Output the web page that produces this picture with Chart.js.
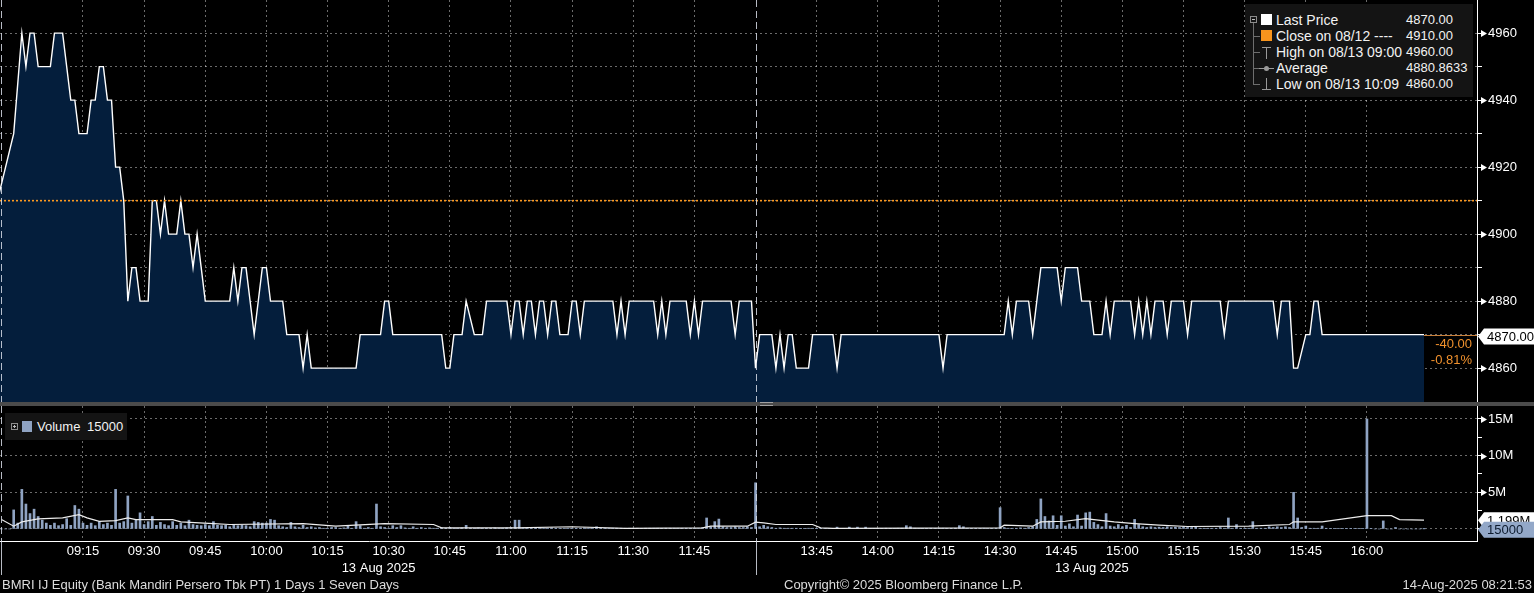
<!DOCTYPE html>
<html>
<head>
<meta charset="utf-8">
<title>BMRI IJ Equity intraday</title>
<script src="https://cdn.jsdelivr.net/npm/chart.js"></script>
<style>
  html, body { margin: 0; padding: 0; background: #000; }
  body { position: relative; width: 1534px; height: 593px; overflow: hidden; font-family: "Liberation Sans", Arial, sans-serif; color: #f2f2f2; }
  canvas { position: absolute; left: 0; }
  #price-chart { top: 0; }
  #volume-chart { top: 406px; }
  #sep { position: absolute; left: 0; top: 402px; width: 1534px; height: 4px; background: #4b4b4b; }
  #grip { position: absolute; left: 760px; top: 402px; width: 13px; height: 2px; border-top: 1px solid #a0a0a0; border-bottom: 1px solid #a0a0a0; }
  .box { position: absolute; background: #141414; }
  #legend { left: 1245px; top: 4px; width: 228px; height: 93px; }
  #legend .t { position: absolute; left: 31px; height: 16px; line-height: 16px; font-size: 14px; white-space: pre; }
  #legend .v { position: absolute; left: 161px; height: 16px; line-height: 16px; font-size: 13px; }
  .tree { position: absolute; left: 8px; top: 18px; height: 62px; border-left: 1px solid #6e6e6e; }
  .stub { position: absolute; left: 8px; width: 7px; border-top: 1px solid #6e6e6e; }
  .pm { position: absolute; width: 5px; height: 5px; border: 1px solid #8c8c8c; }
  .pm::after { content: ""; position: absolute; left: 1px; top: 2px; width: 3px; border-top: 1px solid #bbb; }
  .pm.plus::before { content: ""; position: absolute; left: 2px; top: 1px; height: 3px; border-left: 1px solid #bbb; }
  .sw { position: absolute; width: 11px; height: 11px; }
  .hi, .lo { position: absolute; left: 17px; width: 9px; height: 11px; }
  .hi { top: 43px; border-top: 1px solid #9a9a9a; }
  .lo { top: 74px; border-bottom: 1px solid #9a9a9a; }
  .hi::after, .lo::after { content: ""; position: absolute; left: 4px; top: 0; height: 11px; border-left: 1px solid #9a9a9a; }
  .avgline { position: absolute; left: 14px; top: 64px; width: 15px; border-top: 1px solid #9a9a9a; }
  .avgdot { position: absolute; left: 19px; top: 62px; width: 5px; height: 5px; border-radius: 50%; background: #9a9a9a; }
  #vlegend { left: 5px; top: 413px; width: 122px; height: 27px; }
  #vlegend .t { position: absolute; top: 0; line-height: 27px; font-size: 13px; }
  .chg { position: absolute; left: 1400px; width: 72px; text-align: right; font-size: 13px; line-height: 16px; color: #f0912d; }
  .foot { position: absolute; top: 577px; line-height: 16px; font-size: 13px; color: #dcdcdc; white-space: nowrap; }
</style>
</head>
<body>
<canvas id="price-chart" width="1534" height="402"></canvas>
<canvas id="volume-chart" width="1534" height="187"></canvas>
<div id="sep"></div>
<div id="grip"></div>

<div id="legend" class="box">
  <div class="tree"></div>
  <div class="pm" style="left:5px;top:12px"></div>
  <div class="stub" style="top:32px"></div>
  <div class="stub" style="top:48px"></div>
  <div class="stub" style="top:64px"></div>
  <div class="stub" style="top:80px"></div>
  <div class="sw" style="left:16px;top:10px;background:#ffffff"></div>
  <div class="sw" style="left:16px;top:26px;background:#f7941d"></div>
  <div class="hi"></div>
  <div class="avgline"></div>
  <div class="avgdot"></div>
  <div class="lo"></div>
  <div class="t" style="top:8px">Last Price</div>
  <div class="t" style="top:24px">Close on 08/12 ----</div>
  <div class="t" style="top:40px">High on 08/13 09:00</div>
  <div class="t" style="top:56px">Average</div>
  <div class="t" style="top:72px">Low on 08/13 10:09</div>
  <div class="v" style="top:8px">4870.00</div>
  <div class="v" style="top:24px">4910.00</div>
  <div class="v" style="top:40px">4960.00</div>
  <div class="v" style="top:56px">4880.8633</div>
  <div class="v" style="top:72px">4860.00</div>
</div>

<div id="vlegend" class="box">
  <div class="pm plus" style="left:6px;top:10px"></div>
  <div class="sw" style="left:17px;top:8px;width:10px;background:#8fa3c2"></div>
  <div class="t" style="left:32px">Volume</div>
  <div class="t" id="vol-last" style="left:82px">15000</div>
</div>

<div class="chg" style="top:336px">-40.00</div>
<div class="chg" style="top:352px">-0.81%</div>

<div class="foot" style="left:2px">BMRI IJ Equity (Bank Mandiri Persero Tbk PT) 1 Days 1 Seven Days</div>
<div class="foot" style="left:784px">Copyright© 2025 Bloomberg Finance L.P.</div>
<div class="foot" style="right:2px">14-Aug-2025 08:21:53</div>

<script>
// trading minutes counted from 09:00; the lunch break (12:00-13:30) is cut out, so 13:30 = 180
const FIRST_MINUTE = -6;

// last price per minute bar (IDR), null = no trade in that minute
const price = [
  4910, null, null, null, 4930, null,
  4960, 4950, 4960, 4960, 4950, 4950, 4950, 4950, 4960, 4960, 4960, 4950, 4940, 4940, 4930, // 09:00
  4930, 4930, 4940, 4940, 4950, 4950, 4940, 4940, 4920, 4920, 4910, 4880, 4890, 4890, 4880, // 09:15
  4880, 4880, 4910, 4910, 4900, 4910, 4900, 4900, 4900, 4910, 4900, 4900, 4890, 4900, 4890, // 09:30
  4880, 4880, 4880, 4880, 4880, 4880, 4880, 4890, 4880, 4890, 4890, 4880, 4870, 4880, 4890, // 09:45
  4890, 4880, 4880, 4880, 4880, 4870, 4870, 4870, 4870, 4860, 4870, 4860, 4860, 4860, 4860, // 10:00
  4860, 4860, 4860, 4860, 4860, 4860, 4860, 4860, 4870, 4870, 4870, 4870, 4870, 4870, 4880, // 10:15
  4880, 4870, 4870, 4870, 4870, 4870, 4870, 4870, 4870, 4870, 4870, 4870, 4870, 4870, 4860, // 10:30
  4860, 4870, 4870, 4870, 4880, null, 4870, 4870, 4870, 4880, 4880, 4880, 4880, 4880, 4880, // 10:45
  4870, 4880, 4880, 4870, 4880, 4880, 4870, 4880, 4880, 4870, 4880, 4880, 4870, 4870, 4870, // 11:00
  4880, 4880, 4870, 4880, 4880, 4880, 4880, 4880, 4880, 4880, 4880, 4870, 4880, 4870, 4880, // 11:15
  4880, 4880, 4880, 4880, 4880, 4880, 4870, 4880, 4870, 4880, 4880, 4880, 4880, 4880, 4870, // 11:30
  4880, 4870, 4880, 4880, 4880, 4880, 4880, 4880, 4880, 4880, 4870, 4880, 4880, 4880, 4880, // 11:45
  4860, 4870, 4870, 4870, 4870, 4860, 4870, 4860, 4870, 4870, 4860, 4860, 4860, 4860, 4870, // 13:30
  4870, 4870, 4870, 4870, 4870, 4860, 4870, 4870, 4870, 4870, 4870, 4870, 4870, 4870, 4870, // 13:45
  4870, 4870, 4870, 4870, 4870, 4870, 4870, 4870, 4870, 4870, 4870, 4870, 4870, 4870, 4870, // 14:00
  4870, 4860, 4870, 4870, 4870, 4870, 4870, 4870, 4870, 4870, 4870, 4870, 4870, 4870, 4870, // 14:15
  4870, 4870, 4880, 4870, 4880, 4880, 4880, 4880, 4870, 4880, 4890, 4890, 4890, 4890, 4890, // 14:30
  4880, 4890, 4890, 4890, 4890, 4880, 4880, 4880, 4870, 4870, 4870, 4880, 4870, 4880, 4880, // 14:45
  4880, 4880, 4880, 4870, 4880, 4870, 4880, 4870, 4880, 4880, 4880, 4870, 4880, 4880, 4880, // 15:00
  4880, 4870, 4880, 4880, 4880, 4880, 4880, 4880, 4880, 4880, 4870, 4880, 4880, 4880, 4880, // 15:15
  4880, 4880, 4880, 4880, 4880, 4880, 4880, 4880, 4870, 4880, 4880, 4880, 4860, 4860, null, // 15:30
  4870, 4870, 4880, 4880, 4870, 4870, 4870, 4870, 4870, 4870, 4870, 4870, 4870, 4870, 4870, // 15:45
  4870, 4870, 4870, 4870, 4870, 4870, 4870, 4870, 4870, 4870, 4870, 4870, 4870, 4870, 4870  // 16:00
];

// volume per minute bar, millions of shares
const volume = [
  0, 0, 0, 0, 2.6, 0.8,
  5.4, 3.4, 2.1, 2.7, 1.7, 1.2, 0.8, 0.5, 0.8, 0.45, 0.6, 1.4, 0.5, 3.2, 2.7,
  0.8, 0.5, 0.8, 0.45, 1.0, 0.6, 0.8, 0.5, 5.4, 0.8, 1.0, 4.5, 0.8, 1.2, 2.2,
  0.6, 1.0, 1.7, 0.5, 0.9, 0.6, 0.45, 1.0, 0.5, 0.8, 0.45, 1.2, 0.6, 0.5, 0.45,
  0.6, 0.45, 1.0, 0.5, 0.45, 0.5, 0.3, 0.6, 0.45, 0.5, 0.45, 0.3, 1.0, 0.9, 0.8,
  0.8, 1.3, 1.2, 0.45, 0.3, 0.2, 0.9, 0.3, 0.2, 0.5, 0.2, 0.3, 0.15, 0.2, 0.1,
  0.1, 0.2, 0.2, 0.1, 0.15, 0.5, 0.1, 1.0, 0.45, 0.1, 0.2, 0.1, 3.4, 0.3, 0.2,
  0.1, 0.45, 0.2, 0.45, 0.15, 0.1, 0.3, 0.1, 0.2, 0.1, 0.15, 0.1, 0.1, 0.15, 0.1,
  0.2, 0.1, 0.1, 0.15, 0.5, 0.1, 0.1, 0.15, 0.1, 0.1, 0.1, 0.15, 0.1, 0.1, 0.15,
  0.2, 1.2, 1.2, 0.15, 0.1, 0.1, 0.15, 0.1, 0.1, 0.1, 0.15, 0.1, 0.1, 0.1, 0.1,
  0.1, 0.1, 0.1, 0.15, 0.1, 0.1, 0.3, 0.1, 0.1, 0.1, 0.1, 0.1, 0.1, 0.1, 0.1,
  0.1, 0.1, 0.05, 0.1, 0.1, 0.1, 0.1, 0.05, 0.1, 0.1, 0.1, 0.1, 0.1, 0.1, 0.1,
  0.1, 0.1, 0.2, 1.5, 0.3, 1.0, 1.35, 0.3, 0.2, 0.2, 0.3, 0.2, 0.2, 0.3, 0.2,
  6.3, 0.3, 0.5, 0.3, 0.2, 0.1, 0.15, 0.1, 0.1, 0.1, 0.1, 0.05, 0.05, 0.1, 0.1,
  0.05, 0.05, 0.05, 0.05, 0.05, 0.25, 0.05, 0.05, 0.25, 0.05, 0.25, 0.05, 0.25, 0.05, 0.05,
  0.05, 0.05, 0.1, 0.05, 0.05, 0.1, 0.1, 0.45, 0.3, 0.1, 0.05, 0.05, 0.05, 0.1, 0.05,
  0.1, 0.1, 0.05, 0.05, 0.1, 0.45, 0.3, 0.1, 0.05, 0.05, 0.05, 0.1, 0.05, 0.05, 0.1,
  2.9, 0.2, 0.1, 0.1, 0.1, 0.15, 0.1, 0.2, 0.3, 1.3, 4.1, 1.7, 1.1, 1.8, 0.5,
  1.8, 0.4, 0.7, 0.3, 1.9, 0.4, 2.2, 2.3, 0.9, 0.6, 0.3, 2.1, 0.4, 0.3, 0.6,
  0.3, 0.5, 0.2, 1.3, 0.6, 0.3, 0.2, 0.3, 0.2, 0.25, 0.2, 0.3, 0.2, 0.25, 0.2,
  0.3, 0.2, 0.2, 0.25, 0.1, 0.1, 0.1, 0.1, 0.1, 0.2, 0.1, 1.5, 0.1, 0.6, 0.1,
  0.1, 0.1, 1.0, 0.1, 0.1, 0.1, 0.3, 0.2, 0.3, 0.2, 0.3, 0.2, 5.0, 1.5, 0.2,
  0.4, 0.1, 0.1, 0.1, 0.4, 0.1, 0.05, 0.05, 0.05, 0.05, 0.05, 0.05, 0.05, 0.05, 0.05,
  15.0, 0.05, 0, 0, 1.1, 0, 0, 0.2, 0, 0, 0, 0, 0, 0, 0.015
];

// volume average study (white line)
const avgTimes = [-5, -2, 0, 4, 10, 14, 16, 19, 23, 26, 28, 37, 39, 47, 51, 69, 77, 89, 101, 103,
  121, 135, 148, 167, 169, 178, 180, 182, 185, 194, 196, 199, 240, 241, 248, 250, 256, 261, 263, 268,
  273, 279, 286, 301, 311, 312, 319, 330, 336, 338, 344];
const avgValues = [1.28, 0.38, 0.97, 1.38, 1.51, 1.96, 1.51, 1.05, 1.15, 1.51, 1.28, 1.28, 0.97, 0.74, 0.61, 0.74, 0.38, 0.74, 0.61, 0.16,
  0.16, 0.30, 0.07, 0.16, 0.38, 0.38, 0.92, 0.84, 0.61, 0.61, 0.16, 0.07, 0.16, 0.52, 0.38, 0.97, 1.05, 1.42, 1.28, 0.97,
  0.74, 0.52, 0.34, 0.38, 0.61, 0.97, 0.97, 1.82, 1.82, 1.28, 1.20];

const tickTimes = [15, 30, 45, 60, 75, 90, 105, 120, 135, 150, 165, 195, 210, 225, 240, 255, 270, 285, 300, 315, 330];
const tickLabels = ['09:15', '09:30', '09:45', '10:00', '10:15', '10:30', '10:45', '11:00', '11:15', '11:30', '11:45',
  '13:45', '14:00', '14:15', '14:30', '14:45', '15:00', '15:15', '15:30', '15:45', '16:00'];
const priceTicks = [4860, 4870, 4880, 4890, 4900, 4910, 4920, 4930, 4940, 4950, 4960];
const volTicks = [0, 2.5, 5, 7.5, 10, 12.5, 15];
const volTickLabels = ['', '', '5M', '', '10M', '', '15M'];
const sessionBreaks = [-5, 180];
const sessions = [[-5, 180], [180, 345]];
const sessionDate = '13 Aug 2025';

const prevClose = 4910;
const lastPrice = 4870;
const lastAvgVolume = 1.199;

const X_MIN = -5.36;
const X_MAX = 357;
const GRID = 'rgba(255,255,255,0.42)';
const FONT = '"Liberation Sans", Arial, sans-serif';

Chart.defaults.font.family = FONT;
Chart.defaults.font.size = 13;
Chart.defaults.color = '#ffffff';

const lastVolume = volume[volume.length - 1];
document.getElementById('vol-last').textContent = String(Math.round(lastVolume * 1e6));

// keep the plot area flush with the canvas edges (no label overflow padding)
function noPad(s) {
  s.paddingTop = 0;
  s.paddingBottom = 0;
  s.paddingLeft = 0;
  s.paddingRight = 0;
}

function drawTag(ctx, x0, x1, yc, fill, color, text) {
  const h = 16;
  ctx.fillStyle = fill;
  ctx.beginPath();
  ctx.moveTo(x0, yc);
  ctx.lineTo(x0 + 6, yc - h / 2);
  ctx.lineTo(x1, yc - h / 2);
  ctx.lineTo(x1, yc + h / 2);
  ctx.lineTo(x0 + 6, yc + h / 2);
  ctx.closePath();
  ctx.fill();
  ctx.fillStyle = color;
  ctx.font = '13px ' + FONT;
  ctx.textAlign = 'left';
  ctx.textBaseline = 'middle';
  ctx.fillText(text, x0 + 9, yc + 1);
}

function drawArrows(ctx, scale, values) {
  ctx.fillStyle = '#ffffff';
  values.forEach(v => {
    const py = Math.round(scale.getPixelForValue(v)) + 0.5;
    const x = scale.left + 4;
    ctx.beginPath();
    ctx.moveTo(x, py - 3.5);
    ctx.lineTo(x + 6, py);
    ctx.lineTo(x, py + 3.5);
    ctx.closePath();
    ctx.fill();
  });
}

function drawBreaks(ctx, xScale, top, bottom, tail) {
  ctx.strokeStyle = 'rgba(215,220,230,0.85)';
  ctx.lineWidth = 1;
  sessionBreaks.forEach(t => {
    const px = Math.round(xScale.getPixelForValue(t)) + 0.5;
    ctx.setLineDash([7, 4]);
    ctx.beginPath();
    ctx.moveTo(px, top);
    ctx.lineTo(px, bottom);
    ctx.stroke();
    if (tail) {
      ctx.setLineDash([]);
      ctx.beginPath();
      ctx.moveTo(px, bottom);
      ctx.lineTo(px, bottom + tail);
      ctx.stroke();
    }
  });
  ctx.setLineDash([]);
}

const priceOverlay = {
  id: 'priceOverlay',
  afterDraw(chart) {
    const { ctx, chartArea, scales: { x, y } } = chart;
    ctx.save();
    drawBreaks(ctx, x, chartArea.top, chartArea.bottom, 0);
    const py = Math.round(y.getPixelForValue(lastPrice)) + 0.5;
    const endX = x.getPixelForValue(FIRST_MINUTE + price.length - 1);
    ctx.strokeStyle = '#c9803a';
    ctx.beginPath();
    ctx.moveTo(endX, py);
    ctx.lineTo(chartArea.right, py);
    ctx.stroke();
    drawArrows(ctx, y, priceTicks.filter(v => v % 20 === 0));
    drawTag(ctx, chartArea.right + 1, chart.width, py + 1, '#ffffff', '#000000', lastPrice.toFixed(2));
    ctx.restore();
  }
};

const volumeOverlay = {
  id: 'volumeOverlay',
  afterDraw(chart) {
    const { ctx, chartArea, scales: { x, y } } = chart;
    ctx.save();
    drawBreaks(ctx, x, chartArea.top, chartArea.bottom, 34);
    drawArrows(ctx, y, volTicks.filter((v, i) => volTickLabels[i]));
    ctx.fillStyle = '#ffffff';
    ctx.font = '13px ' + FONT;
    ctx.textAlign = 'center';
    ctx.textBaseline = 'middle';
    sessions.forEach(([a, b]) => {
      ctx.fillText(sessionDate, x.getPixelForValue((a + b) / 2), chartArea.bottom + 27);
    });
    drawTag(ctx, chartArea.right + 1, chart.width, y.getPixelForValue(lastAvgVolume), '#ffffff', '#000000', lastAvgVolume.toFixed(3) + 'M');
    drawTag(ctx, chartArea.right + 1, chart.width, y.getPixelForValue(lastVolume) + 1, '#93a8c8', '#0d1b2e', String(Math.round(lastVolume * 1e6)));
    ctx.restore();
  }
};

const pricePoints = price.map((p, i) => ({ x: FIRST_MINUTE + i, y: p }));

new Chart(document.getElementById('price-chart'), {
  type: 'line',
  data: {
    datasets: [
      {
        label: 'Close on 08/12',
        data: [{ x: X_MIN, y: prevClose }, { x: X_MAX, y: prevClose }],
        borderColor: '#ff9a1f',
        borderWidth: 1.6,
        borderDash: [2, 2],
        pointRadius: 0,
        fill: false,
        order: 0
      },
      {
        label: 'Last Price',
        data: pricePoints,
        borderColor: '#ffffff',
        borderWidth: 1.4,
        backgroundColor: '#041e3c',
        fill: 'start',
        pointRadius: 0,
        spanGaps: true,
        tension: 0,
        order: 1
      }
    ]
  },
  options: {
    responsive: false,
    animation: false,
    events: [],
    layout: { padding: 0, autoPadding: false },
    plugins: { legend: { display: false }, tooltip: { enabled: false } },
    scales: {
      x: {
        type: 'linear',
        min: X_MIN,
        max: X_MAX,
        z: 1,
        afterBuildTicks: s => { s.ticks = tickTimes.map(v => ({ value: v })); },
        afterFit: s => { s.height = 0; noPad(s); },
        ticks: { display: false },
        grid: { color: GRID, drawTicks: false },
        border: { display: false, dash: [2, 3] }
      },
      y: {
        position: 'right',
        min: 4849.9,
        max: 4969.9,
        z: 1,
        afterBuildTicks: s => { s.ticks = priceTicks.map(v => ({ value: v })); },
        afterFit: s => { s.width = 57; noPad(s); },
        ticks: { padding: 6, callback: v => (v % 20 === 0 ? String(v) : '') },
        grid: { color: GRID, tickColor: '#ffffff', tickLength: 5 },
        border: { color: '#ffffff', dash: [2, 3] }
      }
    }
  },
  plugins: [priceOverlay]
});

const volPoints = volume.map((v, i) => ({ x: FIRST_MINUTE + i, y: v }));
const avgPoints = avgTimes.map((t, i) => ({ x: t, y: avgValues[i] }));

new Chart(document.getElementById('volume-chart'), {
  type: 'bar',
  data: {
    datasets: [
      {
        type: 'line',
        label: 'Average',
        data: avgPoints,
        borderColor: '#ececec',
        borderWidth: 1.2,
        pointRadius: 0,
        tension: 0,
        fill: false,
        order: 0
      },
      {
        type: 'bar',
        label: 'Volume',
        data: volPoints,
        backgroundColor: '#8fa3c2',
        barThickness: 2,
        order: 1
      }
    ]
  },
  options: {
    responsive: false,
    animation: false,
    events: [],
    layout: { padding: 0, autoPadding: false },
    plugins: { legend: { display: false }, tooltip: { enabled: false } },
    scales: {
      x: {
        type: 'linear',
        min: X_MIN,
        max: X_MAX,
        offset: false,
        afterBuildTicks: s => { s.ticks = tickTimes.map(v => ({ value: v })); },
        afterFit: s => { s.height = 52; noPad(s); },
        ticks: { autoSkip: false, maxRotation: 0, padding: 3, callback: (v, i) => tickLabels[i] },
        grid: { color: GRID, drawTicks: false, offset: false },
        border: { color: '#ffffff', dash: [2, 3] }
      },
      y: {
        position: 'right',
        min: -1.64,
        max: 16.77,
        afterBuildTicks: s => { s.ticks = volTicks.map(v => ({ value: v })); },
        afterFit: s => { s.width = 57; noPad(s); },
        ticks: { padding: 6, callback: (v, i) => volTickLabels[i] },
        grid: {
          color: c => (c.tick && c.tick.value % 5 === 0 ? GRID : 'rgba(0,0,0,0)'),
          tickColor: '#ffffff',
          tickLength: 5
        },
        border: { color: '#ffffff', dash: [2, 3] }
      }
    }
  },
  plugins: [volumeOverlay]
});
</script>
</body>
</html>
